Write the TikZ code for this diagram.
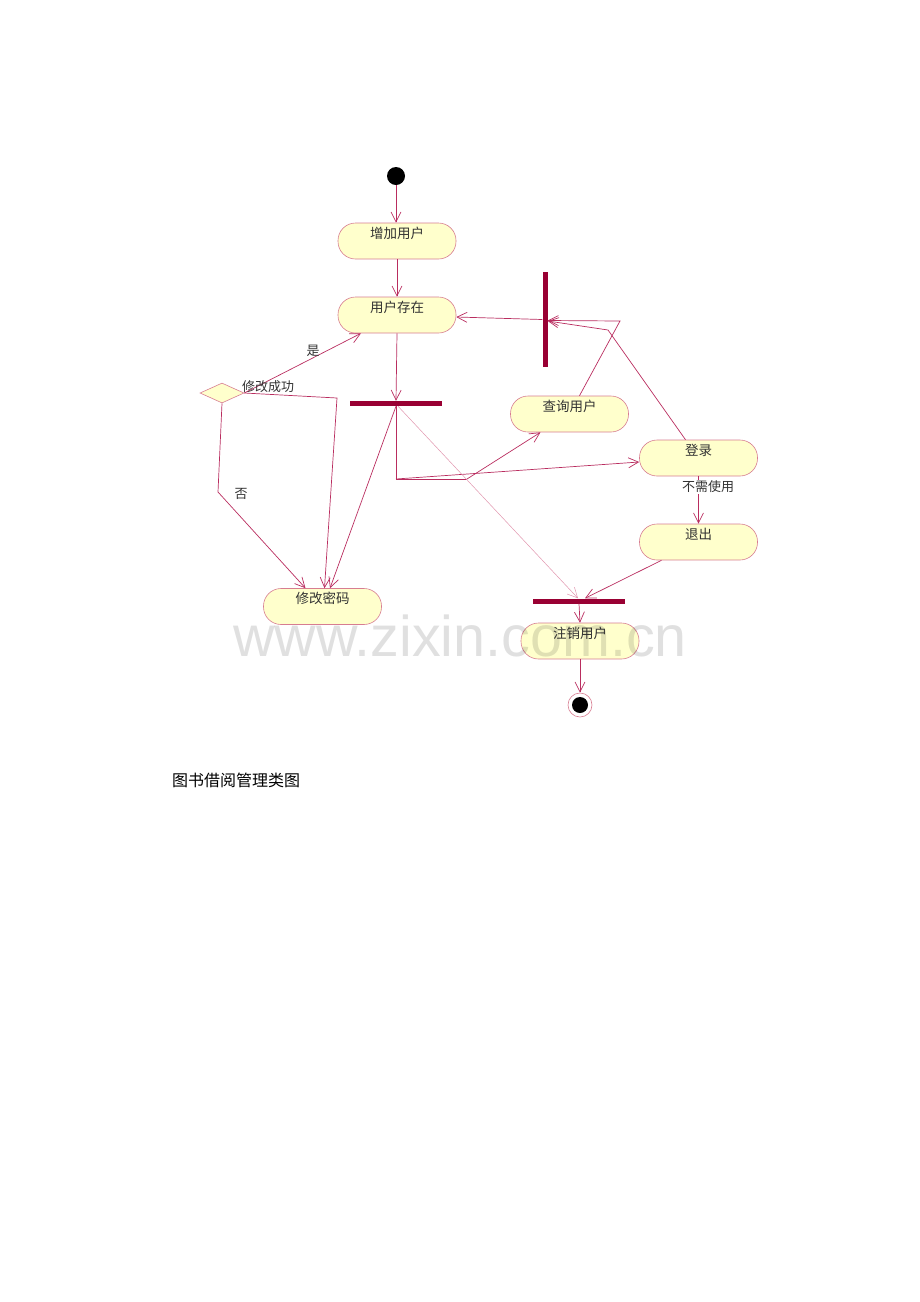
\documentclass[tikz,border=0pt]{standalone}
\usepackage{fontspec}
\setmainfont{Noto Sans CJK SC}
\newfontfamily\wmfont{Liberation Sans}
\usetikzlibrary{arrows.meta,shapes.geometric,calc}
\definecolor{lnc}{RGB}{185,45,95}
\definecolor{lightlnc}{RGB}{225,150,175}
\definecolor{pillc}{RGB}{215,125,145}
\definecolor{fillc}{RGB}{255,255,204}
\definecolor{barc}{RGB}{153,0,51}
\definecolor{txtc}{RGB}{50,50,50}
\begin{document}
\begin{tikzpicture}[x=1pt,y=-1pt,
  act/.style={draw=pillc, fill=fillc, rounded corners=17.5pt, minimum width=118pt,
    minimum height=36pt, inner sep=0pt, line width=0.6pt,
    label={[acttext]north:#1}},
  acttext/.style={font=\fontsize{13.5}{13.5}\selectfont, text=txtc, anchor=north, inner sep=1pt, yshift=-3pt},
  bar/.style={fill=barc, draw=none, inner sep=0pt},
  conn/.style={draw=lnc, line width=0.7pt, -{Straight Barb[length=10pt,width=10pt]}},
  plain/.style={draw=lnc, line width=0.7pt},
  lbl/.style={font=\fontsize{13}{13}\selectfont, text=txtc, inner sep=0pt}
]
\useasboundingbox (0,0) rectangle (920,1302);

% nodes
\node[circle, fill=black, minimum size=18pt, inner sep=0pt] (start) at (396,176) {};
\node[act=增加用户] (add) at (397,241) {};
\node[act=用户存在] (exist) at (397,315) {};
\node[act=修改密码] (modpw) at (322.5,606.5) {};
\node[act=查询用户] (query) at (569.5,414) {};
\node[act=登录] (login) at (698.5,458) {};
\node[act=退出] (exit) at (698.5,542) {};
\node[act=注销用户] (cancel) at (580,641) {};
\node[bar, minimum width=5pt, minimum height=95pt] (vbar) at (545,319.5) {};
\node[bar, minimum width=92pt, minimum height=5pt] (hbar1) at (396,403.5) {};
\node[bar, minimum width=92pt, minimum height=5pt] (hbar2) at (579,601) {};
\node[diamond, draw=pillc, fill=fillc, line width=0.6pt, inner sep=0pt,
  minimum width=44pt, minimum height=20pt] (dec) at (222,393) {};
\node[circle, draw=pillc, fill=white, line width=0.6pt, minimum size=24pt, inner sep=0pt] (endo) at (580,705) {};
\node[circle, fill=black, minimum size=16pt, inner sep=0pt] (endi) at (580,705) {};

% junction coordinates
\coordinate (j1) at (396,479);
\coordinate (j2) at (467,479);
\coordinate (q1) at (620,321);
\coordinate (l1) at (608,330);
\coordinate (d1) at (337,398);
\coordinate (d2) at (218,492);

% connectors
\draw[conn] (start) -- (start |- add.north);
\draw[conn] (add) -- (exist);
\draw[conn] (exist.south) -- (hbar1.north);
\draw[conn] (hbar1.south) -- ($(modpw.north)+(7.5,0)$);
\draw[plain] (hbar1.south) -- (j1) -- (j2);
\draw[conn] (j2) -- ($(query.south)+(-29,0)$);
\draw[conn] (j1) -- ($(login.west)+(0,4)$);
\draw[conn, draw=lightlnc, line width=0.5pt] ($(hbar1.south)+(2,0)$) -- ($(hbar2.north)+(-1,0)$);
\draw[conn] ($(query.north)+(10,0)$) -- (q1) -- ($(vbar.east)+(0,1)$);
\draw[conn] ($(login.north)+(-13,0)$) -- (l1) -- ($(vbar.east)+(0,1.5)$);
\draw[conn] (vbar.west) -- ($(exist.east)+(0,2)$);
\draw[conn] (dec.east) -- ($(exist.south)+(-36,0)$);
\draw[conn] (dec.east) -- (d1) -- ($(modpw.north)+(2,0)$);
\draw[conn] (dec.south) -- (d2) -- ($(modpw.north)+(-17,0)$);
\draw[conn] (login.south) -- (exit.north);
\draw[conn] ($(exit.south)+(-37,0)$) -- ($(hbar2.north)+(6,0)$);
\draw[conn] (hbar2.south) -- (cancel.north);
\draw[conn] (cancel.south) -- (endo.north);

% labels
\node[lbl] (lyes) at (313,351) {是};
\node[lbl] (lok) at (268,387) {修改成功};
\node[lbl] (lno) at (241,494) {否};
\node[lbl, fill=white, inner sep=0.5pt] (lneed) at (708,487) {不需使用};

% caption
\node[anchor=west, font=\fontsize{16}{16}\selectfont, inner sep=0pt] (cap) at (172,780) {图书借阅管理类图};

% watermark
\node[anchor=base west, inner sep=0pt, font=\wmfont\fontsize{57.5}{57.5}\selectfont,
  text=black, text opacity=0.12] (wm) at (233,656) {www.zixin.com.cn};
\end{tikzpicture}
\end{document}
